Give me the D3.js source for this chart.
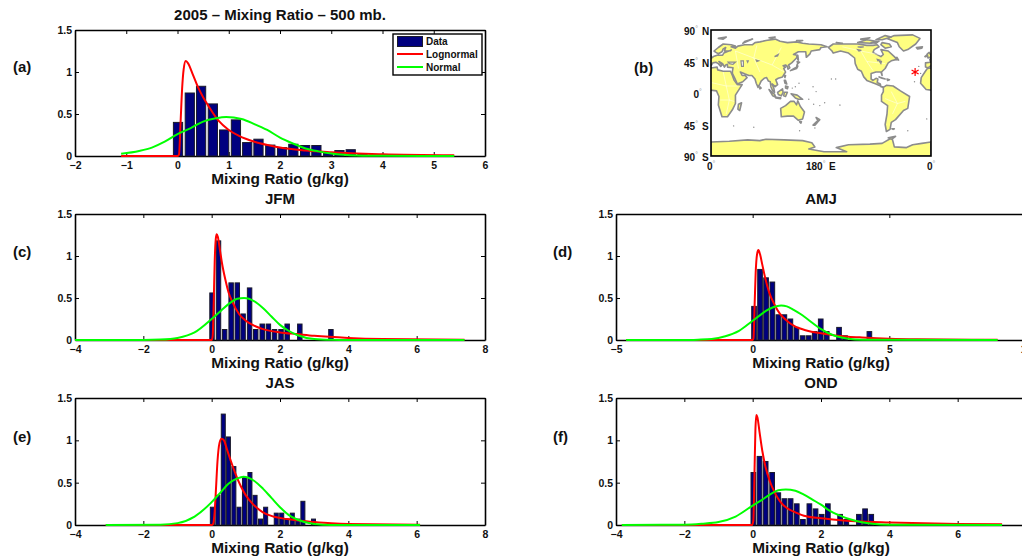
<!DOCTYPE html>
<html>
<head>
<meta charset="utf-8">
<script src="https://cdn.jsdelivr.net/npm/d3@7"></script>
<style>
  html, body { margin: 0; padding: 0; background: #fff; overflow: hidden; }
  svg { display: block; }
  text { font-family: "Liberation Sans", Arial, sans-serif; font-weight: bold; fill: #111; }
</style>
</head>
<body>
<div id="chart"></div>
<script>
// histogram bars (bin centres, heights) and fitted curves
const aCenters = [0.01, 0.24, 0.46, 0.69, 0.91, 1.14, 1.36, 1.58, 1.81, 2.04, 2.26, 2.49, 2.71, 2.94, 3.16, 3.38, 3.61, 3.84, 4.06, 4.29];
const aHeights = [0.4, 0.75, 0.83, 0.62, 0.31, 0.43, 0.16, 0.2, 0.13, 0.1, 0.14, 0.125, 0.125, 0.03, 0.065, 0.075, 0.02, 0.01, 0.01, 0.01];
const aLogX = [-1.1, 0, 0.03, 0.06, 0.09, 0.12, 0.16, 0.2, 0.3, 0.4, 0.5, 0.6, 0.8, 1, 1.2, 1.5, 1.8, 2, 2.5, 3, 3.5, 4, 5.4];
const aLogY = [0, 0, 0.02, 0.4, 0.8, 1.03, 1.13, 1.11, 0.97, 0.82, 0.7, 0.6, 0.42, 0.31, 0.24, 0.17, 0.125, 0.1, 0.065, 0.045, 0.03, 0.02, 0.008];
const aNormX = [-1.1, -0.75, -0.5, -0.25, 0, 0.25, 0.5, 0.75, 0.95, 1.25, 1.5, 1.75, 2, 2.25, 2.5, 2.75, 3, 3.25, 3.5, 4, 5.4];
const aNormY = [0.026, 0.06, 0.1, 0.17, 0.26, 0.33, 0.41, 0.45, 0.465, 0.44, 0.38, 0.31, 0.22, 0.15, 0.09, 0.055, 0.03, 0.015, 0.007, 0.002, 0];

const cCenters = [0.01, 0.2, 0.38, 0.57, 0.75, 0.92, 1.11, 1.29, 1.48, 1.66, 1.84, 2.03, 2.21, 2.39, 2.58, 2.76, 2.94, 3.12, 3.31, 3.49];
const cHeights = [0.56, 1.18, 0.125, 0.68, 0.68, 0.31, 0.62, 0.125, 0.19, 0.19, 0.125, 0.125, 0.19, 0, 0.19, 0, 0, 0, 0, 0.125];
const cLogX = [-4, 0, 0.03, 0.06, 0.09, 0.12, 0.146, 0.18, 0.25, 0.3, 0.4, 0.5, 0.6, 0.8, 1, 1.2, 1.5, 2, 2.5, 3, 4, 5, 7.4];
const cLogY = [0, 0, 0.05, 0.45, 0.95, 1.2, 1.26, 1.23, 1.05, 0.92, 0.72, 0.56, 0.46, 0.31, 0.23, 0.18, 0.13, 0.09, 0.07, 0.05, 0.025, 0.012, 0.003];
const cNormX = [-4, -2, -1.5, -1, -0.5, 0, 0.25, 0.5, 0.75, 0.95, 1.25, 1.5, 1.75, 2, 2.25, 2.5, 3, 3.5, 4, 7.4];
const cNormY = [0, 0, 0.005, 0.025, 0.09, 0.25, 0.34, 0.43, 0.49, 0.5, 0.46, 0.38, 0.28, 0.18, 0.11, 0.06, 0.012, 0.002, 0, 0];

const dCenters = [0.05, 0.27, 0.49, 0.72, 0.94, 1.16, 1.38, 1.6, 1.83, 2.05, 2.27, 2.49, 2.71, 2.94, 3.16, 3.38, 3.6, 3.82, 4.05, 4.27];
const dHeights = [0.4, 0.84, 0.74, 0.69, 0.3, 0.3, 0.25, 0.15, 0.05, 0.05, 0.1, 0.25, 0.1, 0, 0.15, 0.05, 0, 0, 0, 0.1];
const dLogX = [-4.63, 0, 0.03, 0.07, 0.11, 0.16, 0.21, 0.27, 0.35, 0.45, 0.6, 0.8, 1, 1.25, 1.5, 2, 2.5, 3, 3.5, 4, 5, 6, 8.96];
const dLogY = [0, 0, 0.02, 0.4, 0.8, 1.02, 1.07, 1.02, 0.9, 0.75, 0.57, 0.42, 0.31, 0.23, 0.17, 0.11, 0.08, 0.055, 0.04, 0.03, 0.015, 0.008, 0.002];
const dNormX = [-4.63, -2.5, -2, -1.5, -1, -0.5, 0, 0.25, 0.5, 0.75, 1.04, 1.25, 1.5, 1.75, 2, 2.5, 3, 3.5, 4, 8.96];
const dNormY = [0, 0, 0.004, 0.012, 0.045, 0.11, 0.23, 0.29, 0.35, 0.39, 0.41, 0.4, 0.36, 0.31, 0.25, 0.13, 0.05, 0.015, 0.003, 0];

const eCenters = [0.02, 0.18, 0.34, 0.49, 0.65, 0.8, 0.96, 1.12, 1.27, 1.43, 1.58, 1.74, 1.89, 2.05, 2.2, 2.36, 2.52, 2.67, 2.83, 2.98];
const eHeights = [0.21, 0.35, 1.31, 1.04, 0.69, 0.21, 0.56, 0.62, 0.35, 0.07, 0.21, 0, 0.14, 0.14, 0.07, 0.14, 0.07, 0.28, 0, 0.07];
const eLogX = [-3.1, 0, 0.04, 0.08, 0.12, 0.17, 0.23, 0.29, 0.36, 0.45, 0.55, 0.7, 0.85, 1, 1.2, 1.5, 1.8, 2.2, 2.6, 3, 3.5, 4, 6.1];
const eLogY = [0, 0, 0.01, 0.12, 0.38, 0.75, 0.97, 1.02, 1, 0.89, 0.77, 0.6, 0.46, 0.35, 0.25, 0.15, 0.1, 0.07, 0.05, 0.035, 0.02, 0.012, 0.004];
const eNormX = [-3.1, -1.5, -1, -0.5, 0, 0.25, 0.5, 0.75, 0.93, 1.25, 1.5, 1.75, 2, 2.25, 2.5, 3, 3.5, 6.1];
const eNormY = [0, 0.004, 0.022, 0.1, 0.27, 0.38, 0.49, 0.55, 0.57, 0.52, 0.43, 0.32, 0.21, 0.12, 0.065, 0.012, 0.001, 0];

const fCenters = [0.02, 0.2, 0.38, 0.57, 0.75, 0.93, 1.11, 1.29, 1.47, 1.66, 1.84, 2.02, 2.2, 2.38, 2.56, 2.74, 2.93, 3.11, 3.29, 3.47];
const fHeights = [0.62, 0.81, 0.75, 0.62, 0.38, 0.31, 0.31, 0.25, 0.065, 0.25, 0.19, 0.125, 0.25, 0, 0.125, 0.065, 0, 0.125, 0.19, 0.125];
const fLogX = [-3.83, -0.02, 0.02, 0.05, 0.08, 0.107, 0.14, 0.2, 0.28, 0.38, 0.5, 0.65, 0.8, 1, 1.25, 1.5, 2, 2.5, 3, 4, 5, 6, 7.3];
const fLogY = [0, 0, 0.05, 0.55, 1.12, 1.3, 1.27, 1.1, 0.88, 0.68, 0.52, 0.38, 0.28, 0.2, 0.15, 0.11, 0.08, 0.06, 0.045, 0.03, 0.02, 0.013, 0.008];
const fNormX = [-3.83, -2, -1.5, -1, -0.5, 0, 0.25, 0.5, 0.75, 0.97, 1.25, 1.5, 1.75, 2, 2.25, 2.5, 3, 3.5, 4, 7.3];
const fNormY = [0, 0.004, 0.015, 0.035, 0.1, 0.23, 0.29, 0.36, 0.41, 0.42, 0.405, 0.36, 0.3, 0.24, 0.17, 0.12, 0.05, 0.015, 0.004, 0];

const yTicks = [0, 0.5, 1, 1.5];

// map outlines, [lon, lat]; anything west of 0 gets drawn again at lon + 360
const eurasia = [[-9, 37], [-5, 36], [0, 39], [3, 43], [8, 44], [12, 42], [16, 38], [18, 40], [13, 45], [19, 42], [22, 37], [24, 40], [27, 41], [27, 37], [36, 36], [35, 31], [35, 28], [39, 21], [43, 13], [52, 16], [59, 22], [56, 25], [51, 25], [48, 30], [56, 27], [62, 25], [67, 25], [72, 20], [74, 14], [77, 8], [80, 13], [82, 17], [87, 21], [91, 22], [94, 17], [97, 16], [98, 9], [101, 3], [104, 1], [103, 6], [100, 13], [105, 9], [109, 12], [106, 19], [110, 21], [117, 23], [122, 30], [119, 35], [122, 37], [118, 39], [122, 40], [125, 38], [126, 34], [129, 36], [127, 40], [132, 43], [140, 50], [141, 54], [135, 55], [143, 59], [155, 59], [156, 51], [162, 56], [164, 60], [178, 62], [180, 65], [190, 66], [180, 69], [160, 70], [150, 71], [140, 73], [125, 72], [113, 74], [105, 77], [90, 75], [80, 73], [72, 72], [68, 69], [55, 69], [44, 67], [40, 64], [33, 66], [40, 67], [33, 69], [20, 70], [12, 65], [5, 60], [8, 58], [12, 56], [18, 59], [20, 63], [24, 65], [22, 60], [29, 60], [21, 57], [19, 54], [10, 54], [4, 52], [-2, 48], [-1, 44], [-9, 43]];
const africa = [[-6, 35], [10, 37], [11, 33], [20, 31], [32, 31], [35, 25], [38, 18], [43, 12], [51, 12], [40, -3], [40, -15], [35, -24], [27, -34], [18, -34], [12, -17], [13, -5], [9, 3], [-8, 5], [-17, 14], [-16, 22], [-10, 30]];
const northAmerica = [[192, 65], [200, 70], [220, 70], [240, 70], [255, 68], [265, 68], [272, 69], [275, 66], [267, 62], [265, 58], [278, 52], [282, 55], [278, 62], [290, 60], [300, 52], [304, 48], [295, 46], [290, 43], [285, 35], [279, 30], [280, 25], [278, 30], [270, 30], [262, 28], [262, 20], [265, 18], [270, 21], [273, 20], [272, 15], [277, 13], [278, 9], [283, 8], [270, 13], [255, 18], [250, 23], [246, 31], [240, 34], [236, 42], [235, 50], [225, 57], [212, 60], [200, 57], [198, 60]];
const southAmerica = [[282, 8], [287, 11], [298, 10], [310, 3], [325, -5], [322, -22], [315, -25], [302, -38], [295, -42], [293, -52], [287, -55], [285, -45], [288, -30], [289, -18], [279, -12], [279, -3], [282, 2]];
const australia = [[114, -22], [122, -18], [130, -12], [136, -12], [140, -17], [142, -11], [146, -19], [153, -27], [150, -37], [143, -39], [135, -33], [125, -33], [115, -34]];
const antarctica = [[0, -70], [30, -69], [60, -67], [80, -68], [90, -66], [120, -67], [150, -68], [165, -71], [170, -77], [160, -80], [185, -84], [200, -84], [222, -84], [205, -78], [225, -74], [260, -73], [280, -72], [296, -64], [298, -70], [300, -77], [320, -78], [330, -74], [345, -72], [360, -70], [360, -90], [0, -90]];
const greenland = [[288, 78], [300, 82], [330, 83], [342, 78], [335, 70], [322, 62], [315, 60], [308, 66], [305, 72]];
const islands = [
  [[-10, 52], [-6, 55], [-8, 52]],
  [[-5, 50], [1, 52], [-3, 58], [-6, 56]],
  [[-24, 65], [-14, 66], [-15, 64], [-22, 63]],
  [[12, 78], [25, 80], [20, 77]],
  [[52, 71], [68, 77], [56, 74]],
  [[95, 79], [105, 80], [100, 78]],
  [[140, 75], [150, 75], [145, 74]],
  [[45, -16], [50, -14], [47, -25], [44, -23]],
  [[80, 9], [82, 7], [80, 6]],
  [[95, 5], [104, -2], [106, -6], [101, -4]],
  [[106, -6], [114, -7], [114, -8], [106, -7]],
  [[109, 1], [117, 6], [118, 1], [115, -4], [110, -2]],
  [[120, 1], [125, 1], [122, -5], [119, -4]],
  [[131, -1], [141, -3], [150, -9], [143, -9], [138, -7]],
  [[120, 18], [122, 18], [124, 13], [121, 14]],
  [[122, 10], [126, 9], [125, 6], [122, 7]],
  [[120, 25], [122, 25], [121, 22]],
  [[130, 32], [136, 35], [140, 37], [141, 41], [142, 38], [140, 35], [133, 33]],
  [[141, 45], [145, 44], [142, 42]],
  [[142, 54], [143, 47], [142, 48]],
  [[145, -41], [148, -41], [147, -43]],
  [[172, -35], [178, -38], [175, -41], [174, -38]],
  [[167, -46], [173, -41], [174, -42], [170, -46]],
  [[275, 23], [285, 20], [280, 21]],
  [[288, 20], [292, 19], [289, 18]],
  [[205, 72], [215, 71], [208, 71]],
  [[240, 72], [255, 76], [270, 74], [262, 71]],
  [[245, 77], [260, 79], [250, 76]],
  [[270, 76], [285, 82], [295, 80], [280, 76]],
  [[262, 72], [275, 74], [270, 71]],
  [[280, 72], [292, 70], [295, 66], [285, 64], [278, 69]],
  [[303, 48], [307, 47], [304, 51]],
  [[296, -51], [300, -51], [298, -52]],
  [[290, -64], [302, -62], [296, -66]]
];
const lakes = [
  [[49, 46], [53, 46], [53, 38], [50, 38]],
  [[59, 46], [61, 46], [60, 44]],
  [[74, 47], [78, 46], [75, 45]],
  [[104, 52], [110, 55], [109, 53]],
  [[28, 44], [40, 44], [36, 41], [30, 42]],
  [[272, 48], [276, 47], [273, 46]],
  [[275, 46], [279, 45], [278, 42]],
  [[240, 62], [246, 61], [242, 60]],
  [[250, 66], [240, 66], [245, 65]],
  [[29, 60], [34, 62], [32, 60]]
];
const specks = [[144, 14], [167, 9], [160, -9], [168, -16], [178, -18], [186, -14], [197, 20], [204, 20], [340, 38], [343, 28], [333, 16], [70, -49], [37, -47], [145, -54], [170, -50], [322, -54], [353, -37], [133, 7], [138, 9], [172, 2]];
const tahiti = [[211, -17]];
const seams = [
  [[20, 30], [25, 10], [30, -10], [25, -30]], [[0, 15], [25, 10], [45, 10]], [[15, -10], [30, -10], [38, -12]],
  [[40, 60], [70, 50], [80, 30]], [[70, 50], [100, 40], [120, 30]], [[100, 40], [115, 65]], [[70, 50], [75, 68]], [[40, 60], [45, 35]],
  [[245, 60], [255, 45], [265, 32]], [[215, 66], [245, 60], [275, 55]], [[255, 45], [285, 42]],
  [[295, 2], [305, -15], [297, -30]], [[285, -8], [305, -15], [318, -12]]
];
const redStar = [[334, 30]];

const mapLatLabels = [[90, "90", "N"], [45, "45", "N"], [0, "0", ""], [-45, "45", "S"], [-90, "90", "S"]];
const mapLonLabels = [[0, "0", ""], [180, "180", "E"], [360, "0", ""]];

const panels = [
  { letter: "(a)", lx: 13, ly: 67, left: 75, right: 485, top: 30, bottom: 156, title: "2005 \u2013 Mixing Ratio \u2013 500 mb.", xd: [-2, 6], xt: d3.range(-2, 7), w: 0.18, c: aCenters, h: aHeights, lgx: aLogX, lgy: aLogY, nx: aNormX, ny: aNormY },
  { letter: "(c)", lx: 13, ly: 252, left: 75, right: 485, top: 214, bottom: 340, title: "JFM", xd: [-4, 8], xt: d3.range(-4, 9, 2), w: 0.13, c: cCenters, h: cHeights, lgx: cLogX, lgy: cLogY, nx: cNormX, ny: cNormY },
  { letter: "(d)", lx: 553, ly: 252, left: 616, right: 1026, top: 214, bottom: 340, title: "AMJ", xd: [-5, 10], xt: d3.range(-5, 11, 5), w: 0.17, c: dCenters, h: dHeights, lgx: dLogX, lgy: dLogY, nx: dNormX, ny: dNormY },
  { letter: "(e)", lx: 13, ly: 437, left: 75, right: 485, top: 398, bottom: 525, title: "JAS", xd: [-4, 8], xt: d3.range(-4, 9, 2), w: 0.117, c: eCenters, h: eHeights, lgx: eLogX, lgy: eLogY, nx: eNormX, ny: eNormY },
  { letter: "(f)", lx: 553, ly: 437, left: 616, right: 1026, top: 398, bottom: 525, title: "OND", xd: [-4, 8], xt: d3.range(-4, 7, 2), w: 0.137, c: fCenters, h: fHeights, lgx: fLogX, lgy: fLogY, nx: fNormX, ny: fNormY }
];

const colors = { bar: "#00007f", edge: "#1a1a2a", log: "#ff0000", norm: "#00ff00", land: "#ffff80", coast: "#8c8c8c" };

const svg = d3.select("#chart").append("svg").attr("width", 1022).attr("height", 557);

const tickStr = (d) => String(d).replace("-", "\u2212");

panels.forEach((p) => {
  const x = d3.scaleLinear().domain(p.xd).range([p.left, p.right]);
  const y = d3.scaleLinear().domain([0, 1.5]).range([p.bottom, p.top]);
  const g = svg.append("g");

  const axes = [
    [d3.axisBottom(x).tickValues(p.xt).tickFormat(tickStr).tickPadding(6), p.bottom],
    [d3.axisTop(x).tickValues(p.xt).tickFormat(""), p.top]
  ];
  axes.forEach(([a, pos]) => {
    g.append("g").attr("transform", `translate(0,${pos})`)
      .call(a.tickSizeInner(-4).tickSizeOuter(0));
  });
  g.append("g").attr("transform", `translate(${p.left},0)`)
    .call(d3.axisLeft(y).tickValues(yTicks).tickFormat(tickStr).tickSizeInner(-4).tickSizeOuter(0).tickPadding(3));
  g.append("g").attr("transform", `translate(${p.right},0)`)
    .call(d3.axisRight(y).tickValues(yTicks).tickFormat("").tickSizeInner(-4).tickSizeOuter(0));
  g.selectAll(".domain").attr("stroke", "#000").attr("stroke-width", 1.6);
  g.selectAll(".tick line").attr("stroke", "#000");
  g.selectAll(".tick text").style("font-size", "10.5px").style("font-family", "Liberation Sans").attr("fill", "#111");
  // the unlabelled top and right axes still create empty text nodes
  g.selectAll(".tick text").filter(function () { return !this.textContent; }).remove();

  g.selectAll("rect.bar")
    .data(p.c.map((c, i) => ({ c, h: p.h[i] })).filter((d) => d.h > 0))
    .join("rect")
    .attr("class", "bar")
    .attr("x", (d) => x(d.c - p.w / 2))
    .attr("width", (d) => x(d.c + p.w / 2) - x(d.c - p.w / 2))
    .attr("y", (d) => y(d.h))
    .attr("height", (d) => y(0) - y(d.h))
    .attr("fill", colors.bar)
    .attr("stroke", colors.edge)
    .attr("stroke-width", 1);

  const line = d3.line().x((d) => x(d[0])).y((d) => y(d[1])).curve(d3.curveMonotoneX);
  [[p.lgx, p.lgy, colors.log], [p.nx, p.ny, colors.norm]].forEach(([xs, ys, col]) => {
    g.append("path")
      .attr("d", line(xs.map((v, i) => [v, ys[i]])))
      .attr("fill", "none")
      .attr("stroke", col)
      .attr("stroke-width", 2);
  });

  const mid = (p.left + p.right) / 2;
  g.append("text").attr("x", mid).attr("y", p.top - 10).attr("text-anchor", "middle").style("font-size", "15px").text(p.title);
  g.append("text").attr("x", mid).attr("y", p.bottom + 28).attr("text-anchor", "middle").style("font-size", "15.4px").text("Mixing Ratio (g/kg)");
  g.append("text").attr("x", p.lx).attr("y", p.ly + 5).style("font-size", "15px").text(p.letter);
});

// legend sits inside panel (a)
const legend = svg.append("g");
legend.append("rect").attr("x", 393).attr("y", 34).attr("width", 89).attr("height", 41)
  .attr("fill", "#fff").attr("stroke", "#000").attr("stroke-width", 1.4);
legend.append("rect").attr("x", 397.5).attr("y", 36.5).attr("width", 25).attr("height", 10)
  .attr("fill", colors.bar).attr("stroke", colors.edge);
legend.append("line").attr("x1", 397).attr("x2", 423).attr("y1", 54).attr("y2", 54).attr("stroke", colors.log).attr("stroke-width", 2);
legend.append("line").attr("x1", 397).attr("x2", 423).attr("y1", 67).attr("y2", 67).attr("stroke", colors.norm).attr("stroke-width", 2);
[["Data", 45], ["Lognormal", 58], ["Normal", 71]].forEach(([t, yy]) => {
  legend.append("text").attr("x", 426).attr("y", yy).style("font-size", "10px").text(t);
});

// panel (b) map
const lon = d3.scaleLinear().domain([0, 360]).range([711, 931]);
const lat = d3.scaleLinear().domain([90, -90]).range([30, 156]);
const map = svg.append("g");
map.append("text").attr("x", 634).attr("y", 73).style("font-size", "15px").text("(b)");
map.append("clipPath").attr("id", "mapClip").append("rect")
  .attr("x", lon(0)).attr("y", lat(90)).attr("width", lon(360) - lon(0)).attr("height", lat(-90) - lat(90));
const land = map.append("g").attr("clip-path", "url(#mapClip)");
const geo = d3.line().x((d) => lon(d[0])).y((d) => lat(d[1]));
const polys = [eurasia, africa, northAmerica, southAmerica, australia, antarctica, greenland, ...islands];
[0, 360].forEach((shift) => {
  polys.forEach((ring) => {
    land.append("path")
      .attr("d", geo(ring.map((d) => [d[0] + shift, d[1]])) + "Z")
      .attr("fill", colors.land)
      .attr("stroke", colors.coast)
      .attr("stroke-width", 1.6)
      .attr("stroke-linejoin", "round");
  });
});
seams.forEach((s) => {
  land.append("path").attr("d", geo(s)).attr("fill", "none").attr("stroke", "#fff").attr("stroke-opacity", 0.7).attr("stroke-width", 0.7);
});
lakes.forEach((ring) => {
  land.append("path").attr("d", geo(ring) + "Z").attr("fill", "#fff").attr("stroke", colors.coast).attr("stroke-width", 1.2);
});
land.selectAll("circle.speck").data(specks).join("circle").attr("class", "speck")
  .attr("cx", (d) => lon(d[0])).attr("cy", (d) => lat(d[1])).attr("r", 0.7).attr("fill", colors.coast);
land.selectAll("circle.dot").data(tahiti).join("circle").attr("class", "dot")
  .attr("cx", (d) => lon(d[0])).attr("cy", (d) => lat(d[1])).attr("r", 0.5).attr("fill", "#000");
land.selectAll("path.star").data(redStar).join("path").attr("class", "star")
  .attr("transform", (d) => `translate(${lon(d[0])},${lat(d[1])})`)
  .attr("d", d3.symbol().type(d3.symbolAsterisk).size(46))
  .attr("fill", "none").attr("stroke", colors.log).attr("stroke-width", 1.2);
map.append("rect").attr("x", lon(0)).attr("y", lat(90)).attr("width", lon(360) - lon(0)).attr("height", lat(-90) - lat(90))
  .attr("fill", "none").attr("stroke", "#000").attr("stroke-width", 1.6);

// number, raised grey degree sign and hemisphere letter in one text element
const mapLabel = (xx, yy, num, hemi, hemiX) => {
  const t = map.append("text").attr("x", xx).attr("y", yy).style("font-size", "10px");
  t.append("tspan").text(num);
  t.append("tspan").attr("dy", -4).style("font-size", "7px").style("font-weight", "normal").style("fill", "#999").text("\u00b0");
  if (hemi) t.append("tspan").attr("dy", 4).attr("x", hemiX).text(hemi);
};
mapLatLabels.forEach(([v, num, hemi]) => {
  mapLabel(hemi ? 684 : 693.5, lat(v) + 5, num, hemi, 702);
});
mapLonLabels.forEach(([v, num, hemi]) => {
  mapLabel(hemi ? lon(v) - 15 : lon(v) - 4, 170, num, hemi, lon(v) + 8);
});
</script>
</body>
</html>
